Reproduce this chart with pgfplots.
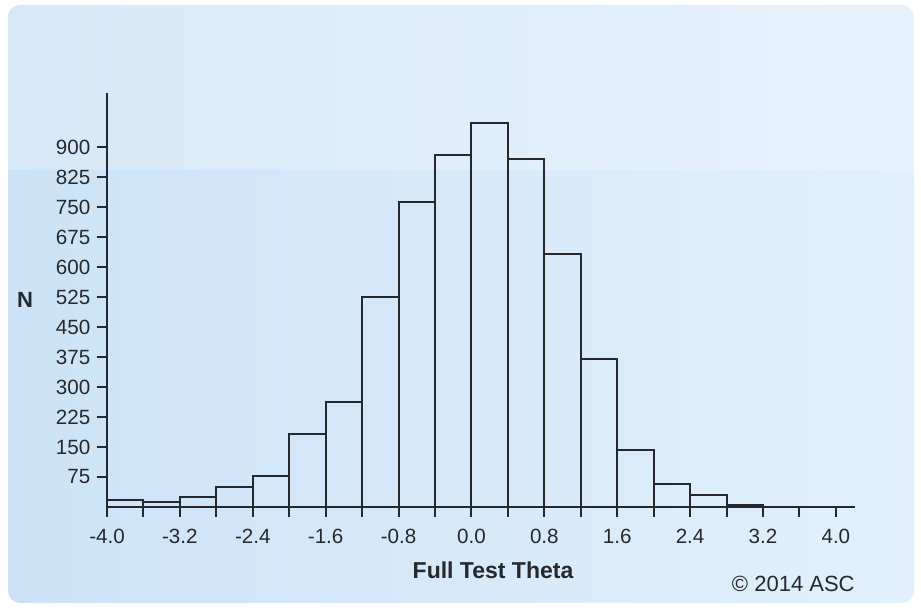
\documentclass[border=0pt]{standalone}
\usepackage{pgfplots}
\pgfplotsset{compat=1.18}
\usepackage{fontspec}
\setmainfont{Liberation Sans}
\definecolor{bgL}{HTML}{CCE3F7}
\definecolor{bgR}{HTML}{E1F0FC}
\definecolor{ink}{HTML}{25292E}
\begin{document}
\begin{tikzpicture}
\path (0,0) rectangle (460.5pt,304pt);
\begin{scope}
\clip[rounded corners=6pt] (4pt,2.5pt) rectangle (457pt,301.5pt);
\shade[left color=bgL, right color=bgR] (4pt,2.5pt) rectangle (457pt,301.5pt);
\fill[white,opacity=0.22] (4pt,219pt) rectangle (457pt,301.5pt);
\end{scope}
\begin{axis}[
  at={(53.5pt,50.5pt)}, anchor=south west,
  scale only axis, width=374pt, height=207pt,
  xmin=-4.0, xmax=4.21, ymin=0, ymax=1035,
  axis lines=left,
  axis line style={-, draw=ink, line width=1pt},
  tick style={draw=ink, line width=1pt},
  tick align=outside,
  major tick length=4.8pt, minor tick length=4.8pt,
  xtick={-4.0,-3.2,-2.4,-1.6,-0.8,0,0.8,1.6,2.4,3.2,4.0},
  xticklabels={-4.0,-3.2,-2.4,-1.6,-0.8,0.0,0.8,1.6,2.4,3.2,4.0},
  minor xtick={-3.6,-2.8,-2.0,-1.2,-0.4,0.4,1.2,2.0,2.8,3.6},
  ytick={75,150,225,300,375,450,525,600,675,750,825,900},
  /pgf/number format/assume math mode=true,
  ticklabel style={font=\fontsize{10.3}{12}\selectfont, text=ink},
  xticklabel style={yshift=-2.5pt},
  yticklabel style={xshift=0pt},
]
\addplot[ybar interval, draw=ink, line width=1pt, fill=none] coordinates {
(-4.0,17) (-3.6,12) (-3.2,26) (-2.8,51) (-2.4,77) (-2.0,182) (-1.6,262)
(-1.2,526) (-0.8,763) (-0.4,880) (0.0,961) (0.4,869) (0.8,632) (1.2,370)
(1.6,142) (2.0,57) (2.4,31) (2.8,4) (3.2,4)
};
\end{axis}
\node[font=\bfseries\fontsize{11}{13}\selectfont, text=ink] at (12.5pt,154pt) {N};
\node[font=\bfseries\fontsize{11.5}{14}\selectfont, text=ink, anchor=base, inner sep=0pt] at (246.5pt,14.5pt) {Full Test Theta};
\node[font=\fontsize{11}{13}\selectfont, text=ink, anchor=base east, inner sep=0pt] at (427.5pt,8pt) {© 2014 ASC};
\end{tikzpicture}
\end{document}
